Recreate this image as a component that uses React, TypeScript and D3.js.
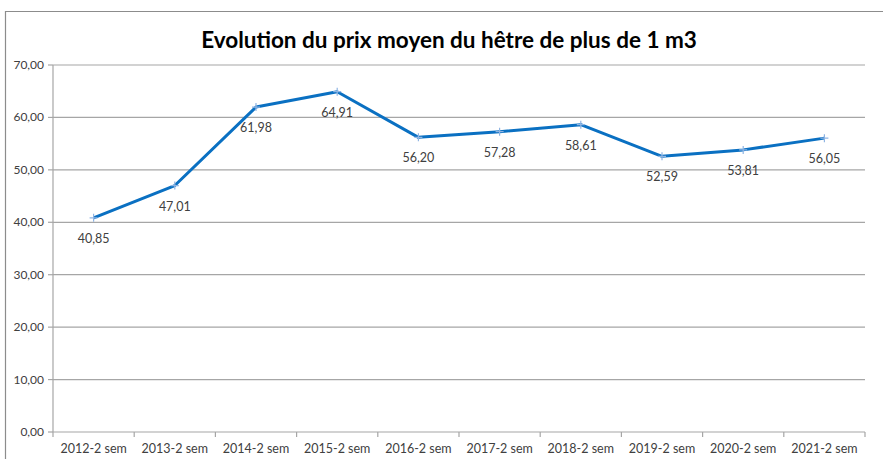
import React from "react";
import * as d3 from "d3";

const categories = ["2012-2 sem","2013-2 sem","2014-2 sem","2015-2 sem","2016-2 sem","2017-2 sem","2018-2 sem","2019-2 sem","2020-2 sem","2021-2 sem"];
const values = [40.85, 47.01, 61.98, 64.91, 56.2, 57.28, 58.61, 52.59, 53.81, 56.05];
const yTicks = [0, 10, 20, 30, 40, 50, 60, 70];
const title = "Evolution du prix moyen du hêtre de plus de 1 m3";

const W = 883, H = 459;
const left = 53, right = 865, top = 65, bottom = 432;
const fmt = (v: number) => v.toFixed(2).replace(".", ",");

export default function App() {
  const x = d3.scaleBand().domain(categories).range([left, right]);
  const y = d3.scaleLinear().domain([0, 70]).range([bottom, top]);
  const line = d3.line<number>().x((_, i) => x(categories[i])! + x.bandwidth() / 2).y(d => y(d));
  const font = "Lato, 'Open Sans', sans-serif";
  return (
    <svg width={W} height={H} style={{ position: "absolute", left: 0, top: 0, background: "#fff" }}>
      <rect x={0} y={0} width={W} height={H} fill="#fff" />
      <path d={`M5.5,${H} V11.5 H${W}`} fill="none" stroke="#8c8c8c" strokeWidth={1.2} />
      <text x={449} y={48} textAnchor="middle" fontFamily={font} fontWeight="bold" fontSize={22.5} fill="#000">{title}</text>
      {yTicks.map(t => (
        <g key={t}>
          <line x1={left} x2={right} y1={y(t)} y2={y(t)} stroke="#a6a6a6" strokeWidth={1.2} />
          <line x1={left - 5} x2={left} y1={y(t)} y2={y(t)} stroke="#a6a6a6" strokeWidth={1.2} />
          <text x={left - 9} y={y(t) + 4} textAnchor="end" fontFamily={font} fontSize={12} fill="#404040">{fmt(t)}</text>
        </g>
      ))}
      <line x1={left} x2={left} y1={top} y2={bottom} stroke="#a6a6a6" strokeWidth={1.2} />
      {categories.concat([""]).map((c, i) => {
        const xx = left + i * x.step();
        return <line key={i} x1={xx} x2={xx} y1={bottom} y2={bottom + 5} stroke="#a6a6a6" strokeWidth={1.2} />;
      })}
      {categories.map(c => (
        <text key={c} x={x(c)! + x.bandwidth() / 2} y={bottom + 21} textAnchor="middle" fontFamily={font} fontSize={12.5} fill="#404040">{c}</text>
      ))}
      <path d={line(values)!} fill="none" stroke="#0a70c2" strokeWidth={3} strokeLinejoin="round" />
      {values.map((v, i) => {
        const cx = x(categories[i])! + x.bandwidth() / 2, cy = y(v);
        return (
          <g key={i}>
            <path d={`M${cx - 4},${cy} H${cx + 4} M${cx},${cy - 4} V${cy + 4}`} stroke="#8fb4e3" strokeWidth={1.2} />
            <text x={cx} y={cy + 25} textAnchor="middle" fontFamily={font} fontSize={12.5} fill="#404040">{fmt(v)}</text>
          </g>
        );
      })}
    </svg>
  );
}
